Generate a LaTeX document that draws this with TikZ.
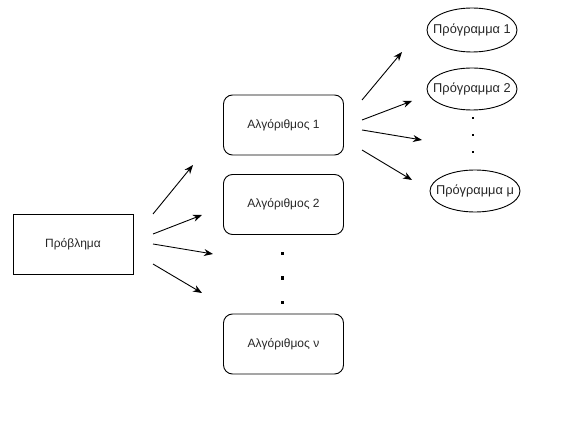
\documentclass[tikz,border=0pt]{standalone}
\usepackage{fontspec}
\setmainfont{Liberation Sans}
\usetikzlibrary{arrows.meta,shapes.geometric}
\begin{document}
\begin{tikzpicture}[x=1pt,y=-1pt,
  every node/.style={font=\fontsize{12}{14}\selectfont, text=black!85},
  rect/.style={draw, line width=0.9pt, minimum width=120pt, minimum height=60pt, inner sep=0pt},
  rrect/.style={rect, rounded corners=9pt},
  ell/.style={draw, line width=0.9pt, ellipse, font=\fontsize{12.8}{15}\selectfont, inner xsep=-8pt, inner ysep=0pt, minimum width=90pt},
  arr/.style={line width=0.9pt, -{Stealth[length=9pt,width=7pt]}},
  bigdot/.style={fill=black, minimum size=3pt, inner sep=0pt},
  smalldot/.style={fill=black, minimum size=2pt, inner sep=0pt}]
\useasboundingbox (0,0) rectangle (564,427);
\node[rect] (prob) at (73,244) {Πρόβλημα};
\node[rrect] (a1) at (283.5,125) {Αλγόριθμος 1};
\node[rrect] (a2) at (283.5,204.5) {Αλγόριθμος 2};
\node[rrect] (an) at (283.5,344) {Αλγόριθμος ν};
\node[bigdot] (d1) at (282,254) {};
\node[bigdot] (d2) at (282,278) {};
\node[bigdot] (d3) at (282,302) {};
\node[ell, minimum height=44pt] (p1) at (472,30) {Πρόγραμμα 1};
\node[ell, minimum height=42pt] (p2) at (472,89) {Πρόγραμμα 2};
\node[ell, minimum height=42pt] (pm) at (475,191) {Πρόγραμμα μ};
\node[smalldot] (e1) at (473,118) {};
\node[smalldot] (e2) at (473,135) {};
\node[smalldot] (e3) at (473,152) {};
% arrows from problem
\coordinate (s1) at (153,214); \coordinate (t1) at (193,165);
\coordinate (s2) at (153,234); \coordinate (t2) at (202,215);
\coordinate (s3) at (153,244); \coordinate (t3) at (213,254);
\coordinate (s4) at (153,264); \coordinate (t4) at (202,293);
\draw[arr] (s1) -- (t1);
\draw[arr] (s2) -- (t2);
\draw[arr] (s3) -- (t3);
\draw[arr] (s4) -- (t4);
% arrows from algorithm 1
\coordinate (u1) at (362,100); \coordinate (v1) at (402,52);
\coordinate (u2) at (362,120); \coordinate (v2) at (412,101);
\coordinate (u3) at (362,130); \coordinate (v3) at (422,140);
\coordinate (u4) at (362,150); \coordinate (v4) at (412,180);
\draw[arr] (u1) -- (v1);
\draw[arr] (u2) -- (v2);
\draw[arr] (u3) -- (v3);
\draw[arr] (u4) -- (v4);
\end{tikzpicture}
\end{document}
